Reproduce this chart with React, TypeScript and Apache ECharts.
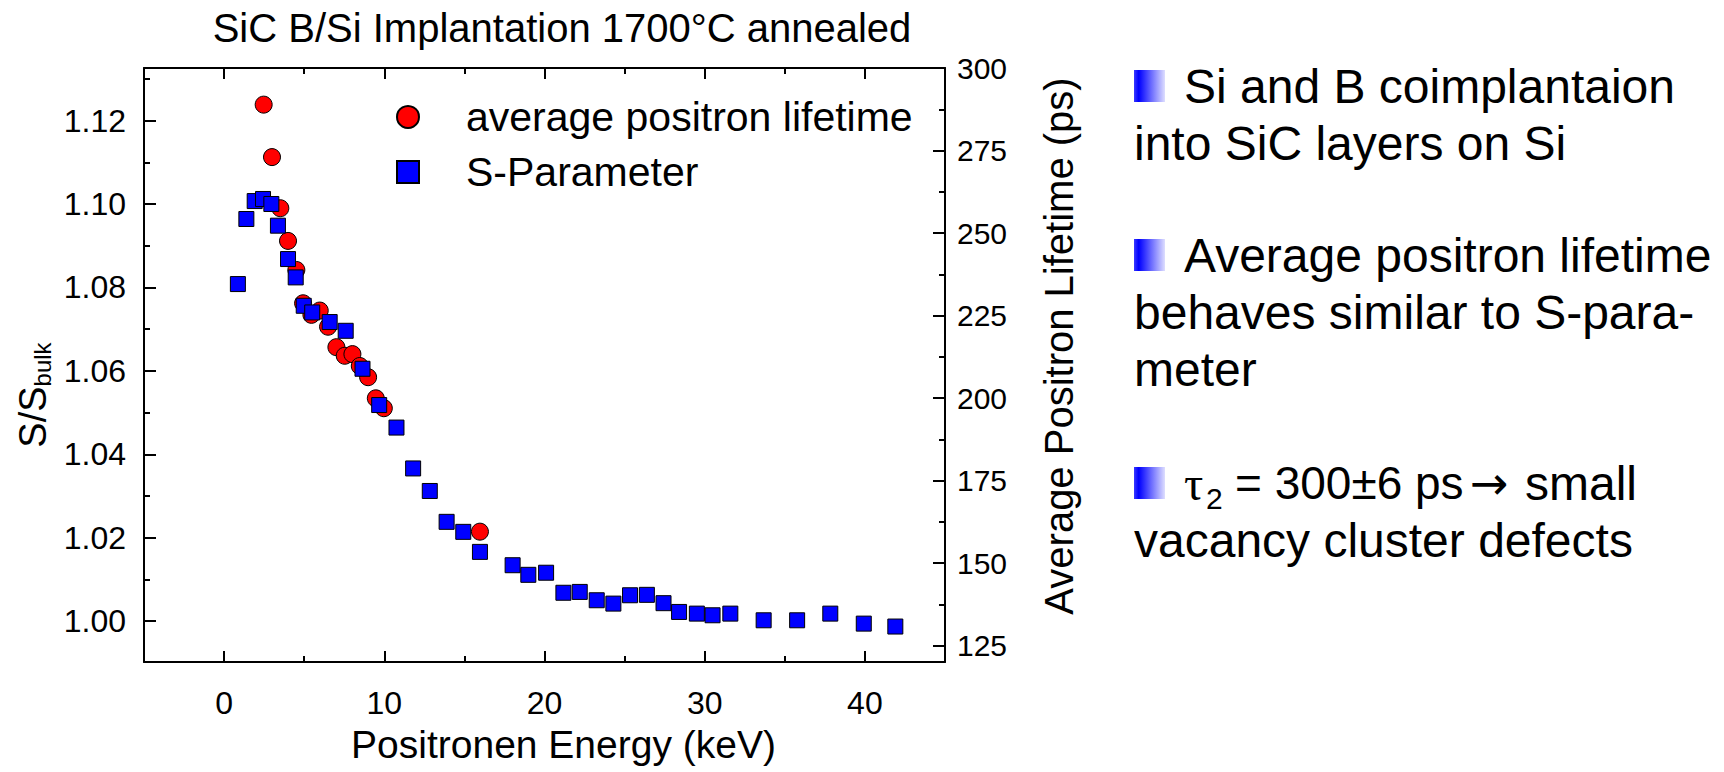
import React, { useEffect, useRef } from "react";
import * as echarts from "echarts";

const FONT = "'Liberation Sans', Arial, Helvetica, sans-serif";
const SERIF = "'Liberation Serif', 'DejaVu Serif', serif";
const ARROW_FONT = "'DejaVu Sans', 'Liberation Sans', sans-serif";

const chartTitle = "SiC B/Si Implantation 1700°C annealed";
const xAxisName = "Positronen Energy (keV)";
const rightAxisName = "Average Positron Lifetime (ps)";
const lifetimeName = "average positron lifetime";
const sName = "S-Parameter";

// average positron lifetime (ps) vs energy (keV) – right axis
const lifetimeEnergy = [2.47, 2.99, 3.51, 3.99, 4.51, 4.93, 5.45, 5.97, 6.49, 7.01, 7.53, 8.01, 8.47, 8.99, 9.47, 9.97, 15.97];
const lifetimeValues = [288.9, 273.0, 257.5, 247.6, 238.8, 228.7, 225.2, 226.5, 221.6, 215.4, 212.8, 213.3, 209.7, 206.3, 199.9, 196.9, 159.5];

// S/S_bulk vs energy (keV) – left axis
const sEnergy = [0.86, 1.39, 1.91, 2.43, 2.95, 3.36, 3.99, 4.47, 4.97, 5.5, 6.59, 7.59, 8.64, 9.68, 10.76, 11.8, 12.84, 13.89, 14.93, 15.97, 18.01, 18.99, 20.1, 21.18, 22.2, 23.26, 24.3, 25.34, 26.39, 27.43, 28.4, 29.51, 30.49, 31.6, 33.68, 35.77, 37.84, 39.93, 41.9];
const sValues = [1.0808, 1.0964, 1.1007, 1.1012, 1.1, 1.0948, 1.0868, 1.0824, 1.0756, 1.074, 1.0717, 1.0696, 1.0605, 1.0518, 1.0464, 1.0366, 1.0312, 1.0238, 1.0214, 1.0166, 1.0134, 1.0111, 1.0116, 1.0068, 1.007, 1.005, 1.0042, 1.0062, 1.0063, 1.0043, 1.0022, 1.0018, 1.0014, 1.0018, 1.0002, 1.0002, 1.0018, 0.9994, 0.9987];

const xTickLabels = [0, 10, 20, 30, 40];
const xMinorTicks = [5, 15, 25, 35];
const sTickLabels = [1.0, 1.02, 1.04, 1.06, 1.08, 1.1, 1.12];
const sMinorTicks = [1.01, 1.03, 1.05, 1.07, 1.09, 1.11, 1.13];
const tauTickLabels = [125, 150, 175, 200, 225, 250, 275, 300];
const tauMinorTicks = [137.5, 162.5, 187.5, 212.5, 237.5, 262.5, 287.5];

const noteLine1 = "Si and B coimplantaion";
const noteLine2 = "into SiC layers on Si";
const noteLine3 = "Average positron lifetime";
const noteLine4 = "behaves similar to S-para-";
const noteLine5 = "meter";
const noteTau = "τ";
const noteTauSub = "2";
const noteLine6a = "= 300±6 ps";
const noteArrow = "→";
const noteLine6b = "small";
const noteLine7 = "vacancy cluster defects";

const BLACK = "#000";
const tickStyle = { color: BLACK, width: 2 };
const lineStyle = { color: BLACK, width: 2 };

function axisBase(position: string, min: number, max: number, showLine: boolean, ticks: number[], len: number) {
  return {
    type: "value",
    position,
    min,
    max,
    splitLine: { show: false },
    axisLine: { show: showLine, onZero: false, lineStyle },
    axisTick: { show: true, inside: true, length: len, lineStyle: tickStyle, customValues: ticks },
    axisLabel: { show: false },
  };
}

export default function App() {
  const ref = useRef<HTMLDivElement>(null);

  useEffect(() => {
    document.body.style.margin = "0";
    if (!ref.current) return;
    const chart = echarts.init(ref.current, undefined, { renderer: "svg" });

    const L = 86;
    const textStyleBase = { fontSize: 48, fontFamily: FONT, fill: BLACK, textVerticalAlign: "middle", textAlign: "left" };
    const bullet = (y: number) => ({
      type: "rect",
      shape: { x: 1134, y: y - 16, width: 31, height: 32 },
      style: {
        fill: {
          type: "linear", x: 0, y: 0, x2: 1, y2: 0,
          colorStops: [
            { offset: 0, color: "#3a3aff" },
            { offset: 0.15, color: "#0000ff" },
            { offset: 1, color: "#dedeff" },
          ],
        },
      },
    });
    const txt = (x: number, y: number, text: string, extra: any = {}) => ({
      type: "text", x, y, style: { ...textStyleBase, text, ...extra },
    });

    const xMain: any = {
      ...axisBase("bottom", -5, 45, true, xTickLabels, 11),
      axisLabel: { show: true, customValues: xTickLabels, fontSize: 32, fontFamily: FONT, color: BLACK, margin: 25 },
      name: xAxisName,
      nameLocation: "middle",
      nameGap: 63,
      nameTextStyle: { fontSize: 39, fontFamily: FONT, color: BLACK, padding: [0, 0, 0, 38] },
    };
    const yMain: any = {
      ...axisBase("left", 0.9902, 1.1326, true, sTickLabels, 12),
      axisLabel: { show: true, customValues: sTickLabels, fontSize: 32, fontFamily: FONT, color: BLACK, margin: 18, formatter: (v: number) => v.toFixed(2) },
    };
    const yRight: any = {
      ...axisBase("right", 120, 300, true, tauTickLabels, 12),
      axisLabel: { show: true, customValues: tauTickLabels, fontSize: 30, fontFamily: FONT, color: BLACK, margin: 12, formatter: (v: number) => String(Math.round(v)) },
    };

    chart.setOption({
      animation: false,
      backgroundColor: "#fff",
      grid: { left: 144, top: 68, width: 801, height: 594, containLabel: false, outerBoundsMode: "none" },
      xAxis: [
        xMain,
        axisBase("bottom", -5, 45, false, xMinorTicks, 6),
        axisBase("top", -5, 45, true, xTickLabels, 11),
        axisBase("top", -5, 45, false, xMinorTicks, 6),
      ],
      yAxis: [
        yMain,
        axisBase("left", 0.9902, 1.1326, false, sMinorTicks, 6),
        yRight,
        axisBase("right", 120, 300, false, tauMinorTicks, 6),
      ],
      legend: {
        orient: "vertical",
        left: 391,
        top: 90,
        itemWidth: 22,
        itemHeight: 22,
        itemGap: 11,
        data: [lifetimeName, sName],
        textStyle: { fontSize: 41, fontFamily: FONT, color: BLACK, padding: [0, 0, 0, 42], lineHeight: 44 },
      },
      series: [
        {
          name: lifetimeName,
          type: "scatter",
          xAxisIndex: 0,
          yAxisIndex: 2,
          symbol: "circle",
          symbolSize: 17,
          itemStyle: { color: "#ff0000", borderColor: BLACK, borderWidth: 1, opacity: 1 },
          data: lifetimeEnergy.map((e, i) => [e, lifetimeValues[i]]),
        },
        {
          name: sName,
          type: "scatter",
          xAxisIndex: 0,
          yAxisIndex: 0,
          symbol: "rect",
          symbolSize: 15,
          itemStyle: { color: "#0000ff", borderColor: BLACK, borderWidth: 1, opacity: 1 },
          data: sEnergy.map((e, i) => [e, sValues[i]]),
        },
      ],
      graphic: [
        { type: "text", x: 562, y: 28, style: { text: chartTitle, fontSize: 40, fontFamily: FONT, fill: BLACK, textAlign: "center", textVerticalAlign: "middle" } },
        {
          type: "text", x: 33, y: 395, rotation: Math.PI / 2,
          style: {
            text: "{a|S/S}{b|bulk}",
            textAlign: "center",
            textVerticalAlign: "middle",
            rich: {
              a: { fontSize: 38, fontFamily: FONT, fill: BLACK },
              b: { fontSize: 24, fontFamily: FONT, fill: BLACK, padding: [19, 0, 0, 0] },
            },
          },
        },
        { type: "text", x: 1059, y: 346, rotation: Math.PI / 2, style: { text: rightAxisName, fontSize: 40, fontFamily: FONT, fill: BLACK, textAlign: "center", textVerticalAlign: "middle" } },
        bullet(L),
        txt(1184, L, noteLine1),
        txt(1134, L + 57, noteLine2),
        bullet(L + 169),
        txt(1184, L + 169, noteLine3),
        txt(1134, L + 226, noteLine4),
        txt(1134, L + 283, noteLine5),
        bullet(L + 397),
        txt(1184, L + 397, noteTau, { fontFamily: SERIF }),
        txt(1206, L + 412, noteTauSub, { fontSize: 30 }),
        txt(1235, L + 397, noteLine6a, { fontSize: 46 }),
        txt(1470, L + 397, noteArrow, { fontFamily: ARROW_FONT, fontSize: 46 }),
        txt(1525, L + 397, noteLine6b),
        txt(1134, L + 454, noteLine7),
      ],
    });

    return () => chart.dispose();
  }, []);

  return <div ref={ref} style={{ width: 1724, height: 772 }} />;
}
